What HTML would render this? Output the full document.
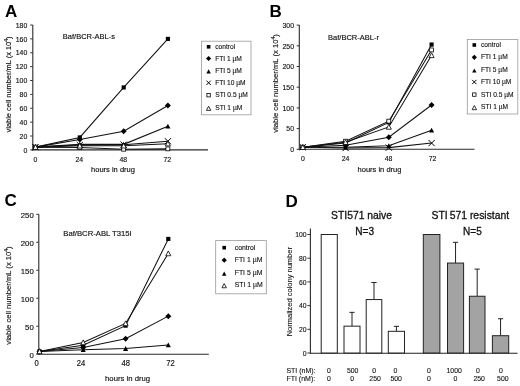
<!DOCTYPE html>
<html><head><meta charset="utf-8"><style>
html,body{margin:0;padding:0;background:#fff;width:520px;height:386px;overflow:hidden}
svg{display:block;filter:blur(0.35px)}
text{font-family:"Liberation Sans", sans-serif}
</style></head><body>
<svg width="520" height="386" viewBox="0 0 520 386">
<rect width="520" height="386" fill="#fff"/>
<line x1="32.80" y1="25.00" x2="32.80" y2="150.40" stroke="#2a2a2a" stroke-width="1.1"/>
<line x1="32.30" y1="149.90" x2="208.00" y2="149.90" stroke="#2a2a2a" stroke-width="1.1"/>
<line x1="30.20" y1="149.90" x2="32.80" y2="149.90" stroke="#333" stroke-width="1"/>
<text transform="translate(27.30 152.60) scale(0.866 1)" font-size="8.0" text-anchor="end" fill="#111" stroke="#111" stroke-width="0.15">0</text>
<line x1="30.20" y1="136.02" x2="32.80" y2="136.02" stroke="#333" stroke-width="1"/>
<text transform="translate(27.30 138.72) scale(0.866 1)" font-size="8.0" text-anchor="end" fill="#111" stroke="#111" stroke-width="0.15">20</text>
<line x1="30.20" y1="122.14" x2="32.80" y2="122.14" stroke="#333" stroke-width="1"/>
<text transform="translate(27.30 124.84) scale(0.866 1)" font-size="8.0" text-anchor="end" fill="#111" stroke="#111" stroke-width="0.15">40</text>
<line x1="30.20" y1="108.27" x2="32.80" y2="108.27" stroke="#333" stroke-width="1"/>
<text transform="translate(27.30 110.97) scale(0.866 1)" font-size="8.0" text-anchor="end" fill="#111" stroke="#111" stroke-width="0.15">60</text>
<line x1="30.20" y1="94.39" x2="32.80" y2="94.39" stroke="#333" stroke-width="1"/>
<text transform="translate(27.30 97.09) scale(0.866 1)" font-size="8.0" text-anchor="end" fill="#111" stroke="#111" stroke-width="0.15">80</text>
<line x1="30.20" y1="80.51" x2="32.80" y2="80.51" stroke="#333" stroke-width="1"/>
<text transform="translate(27.30 83.21) scale(0.866 1)" font-size="8.0" text-anchor="end" fill="#111" stroke="#111" stroke-width="0.15">100</text>
<line x1="30.20" y1="66.63" x2="32.80" y2="66.63" stroke="#333" stroke-width="1"/>
<text transform="translate(27.30 69.33) scale(0.866 1)" font-size="8.0" text-anchor="end" fill="#111" stroke="#111" stroke-width="0.15">120</text>
<line x1="30.20" y1="52.76" x2="32.80" y2="52.76" stroke="#333" stroke-width="1"/>
<text transform="translate(27.30 55.46) scale(0.866 1)" font-size="8.0" text-anchor="end" fill="#111" stroke="#111" stroke-width="0.15">140</text>
<line x1="30.20" y1="38.88" x2="32.80" y2="38.88" stroke="#333" stroke-width="1"/>
<text transform="translate(27.30 41.58) scale(0.866 1)" font-size="8.0" text-anchor="end" fill="#111" stroke="#111" stroke-width="0.15">160</text>
<line x1="30.20" y1="25.00" x2="32.80" y2="25.00" stroke="#333" stroke-width="1"/>
<text transform="translate(27.30 27.70) scale(0.866 1)" font-size="8.0" text-anchor="end" fill="#111" stroke="#111" stroke-width="0.15">180</text>
<text transform="translate(35.30 161.60) scale(0.9 1)" font-size="7.7" text-anchor="middle" fill="#111" stroke="#111" stroke-width="0.15">0</text>
<text transform="translate(79.30 161.60) scale(0.9 1)" font-size="7.7" text-anchor="middle" fill="#111" stroke="#111" stroke-width="0.15">24</text>
<text transform="translate(123.30 161.60) scale(0.9 1)" font-size="7.7" text-anchor="middle" fill="#111" stroke="#111" stroke-width="0.15">48</text>
<text transform="translate(167.30 161.60) scale(0.9 1)" font-size="7.7" text-anchor="middle" fill="#111" stroke="#111" stroke-width="0.15">72</text>
<text transform="translate(113.00 171.70)" font-size="7.5" text-anchor="middle" fill="#111" stroke="#111" stroke-width="0.15">hours in drug</text>
<text transform="translate(10.70 84.50) rotate(-90)" font-size="7.45" text-anchor="middle" fill="#111" stroke="#111" stroke-width="0.15">viable cell number/mL (x 10<tspan font-size="5" dy="-2.5">4</tspan><tspan dy="2.5">)</tspan></text>
<text transform="translate(5.00 17.00)" font-size="17" text-anchor="start" font-weight="bold" fill="#000">A</text>
<text transform="translate(62.80 38.50)" font-size="7.5" text-anchor="start" fill="#111" stroke="#111" stroke-width="0.15">Baf/BCR-ABL-s</text>
<polyline points="35.50,147.12 79.80,137.41 123.70,87.45 167.90,38.88" fill="none" stroke="#111" stroke-width="1.05"/>
<polyline points="35.50,147.12 79.80,139.49 123.70,131.17 167.90,105.49" fill="none" stroke="#111" stroke-width="1.05"/>
<polyline points="35.50,147.12 79.80,144.35 123.70,144.35 167.90,126.31" fill="none" stroke="#111" stroke-width="1.05"/>
<polyline points="35.50,147.12 79.80,145.04 123.70,144.70 167.90,141.23" fill="none" stroke="#111" stroke-width="1.05"/>
<polyline points="35.50,147.12 79.80,147.47 123.70,149.21 167.90,148.86" fill="none" stroke="#111" stroke-width="1.05"/>
<polyline points="35.50,147.12 79.80,145.74 123.70,145.74 167.90,143.66" fill="none" stroke="#111" stroke-width="1.05"/>
<rect x="33.43" y="145.05" width="4.14" height="4.14" fill="#000"/>
<rect x="77.73" y="135.34" width="4.14" height="4.14" fill="#000"/>
<rect x="121.63" y="85.38" width="4.14" height="4.14" fill="#000"/>
<rect x="165.83" y="36.81" width="4.14" height="4.14" fill="#000"/>
<path d="M35.50 144.13L38.49 147.12L35.50 150.11L32.51 147.12Z" fill="#000"/>
<path d="M79.80 136.50L82.79 139.49L79.80 142.48L76.81 139.49Z" fill="#000"/>
<path d="M123.70 128.18L126.69 131.17L123.70 134.16L120.71 131.17Z" fill="#000"/>
<path d="M167.90 102.50L170.89 105.49L167.90 108.48L164.91 105.49Z" fill="#000"/>
<path d="M35.50 144.59L38.03 149.40L32.97 149.40Z" fill="#000"/>
<path d="M79.80 141.82L82.33 146.63L77.27 146.63Z" fill="#000"/>
<path d="M123.70 141.82L126.23 146.63L121.17 146.63Z" fill="#000"/>
<path d="M167.90 123.78L170.43 128.58L165.37 128.58Z" fill="#000"/>
<path d="M32.40 144.02L38.60 150.23M38.60 144.02L32.40 150.23" stroke="#000" stroke-width="1" fill="none"/>
<path d="M76.69 141.94L82.91 148.15M82.91 141.94L76.69 148.15" stroke="#000" stroke-width="1" fill="none"/>
<path d="M120.59 141.59L126.81 147.80M126.81 141.59L120.59 147.80" stroke="#000" stroke-width="1" fill="none"/>
<path d="M164.80 138.12L171.00 144.33M171.00 138.12L164.80 144.33" stroke="#000" stroke-width="1" fill="none"/>
<rect x="33.55" y="145.17" width="3.91" height="3.91" fill="#fff" stroke="#000" stroke-width="0.8"/>
<rect x="77.84" y="145.52" width="3.91" height="3.91" fill="#fff" stroke="#000" stroke-width="0.8"/>
<rect x="121.75" y="147.25" width="3.91" height="3.91" fill="#fff" stroke="#000" stroke-width="0.8"/>
<rect x="165.94" y="146.90" width="3.91" height="3.91" fill="#fff" stroke="#000" stroke-width="0.8"/>
<path d="M35.50 144.59L38.03 149.40L32.97 149.40Z" fill="#fff" stroke="#000" stroke-width="0.8"/>
<path d="M79.80 143.21L82.33 148.01L77.27 148.01Z" fill="#fff" stroke="#000" stroke-width="0.8"/>
<path d="M123.70 143.21L126.23 148.01L121.17 148.01Z" fill="#fff" stroke="#000" stroke-width="0.8"/>
<path d="M167.90 141.12L170.43 145.93L165.37 145.93Z" fill="#fff" stroke="#000" stroke-width="0.8"/>
<rect x="201.50" y="41.20" width="49.50" height="73.60" fill="none" stroke="#999" stroke-width="0.8"/>
<rect x="206.80" y="45.00" width="3.60" height="3.60" fill="#000"/>
<text transform="translate(215.20 48.80) scale(0.95 1)" font-size="7.0" text-anchor="start" fill="#111" stroke="#111" stroke-width="0.12">control</text>
<path d="M208.60 55.90L211.20 58.50L208.60 61.10L206.00 58.50Z" fill="#000"/>
<text transform="translate(215.20 60.50) scale(0.95 1)" font-size="7.0" text-anchor="start" fill="#111" stroke="#111" stroke-width="0.12">FTI 1 µM</text>
<path d="M208.60 69.30L210.80 73.48L206.40 73.48Z" fill="#000"/>
<text transform="translate(215.20 72.70) scale(0.95 1)" font-size="7.0" text-anchor="start" fill="#111" stroke="#111" stroke-width="0.12">FTI 5 µM</text>
<path d="M206.44 80.64L210.76 84.96M210.76 80.64L206.44 84.96" stroke="#000" stroke-width="1" fill="none"/>
<text transform="translate(215.20 84.80) scale(0.95 1)" font-size="7.0" text-anchor="start" fill="#111" stroke="#111" stroke-width="0.12">FTI 10 µM</text>
<rect x="206.90" y="93.50" width="3.40" height="3.40" fill="#fff" stroke="#000" stroke-width="0.8"/>
<text transform="translate(215.20 97.20) scale(0.95 1)" font-size="7.0" text-anchor="start" fill="#111" stroke="#111" stroke-width="0.12">STI 0.5 µM</text>
<path d="M208.60 106.20L210.80 110.38L206.40 110.38Z" fill="#fff" stroke="#000" stroke-width="0.8"/>
<text transform="translate(215.20 109.60) scale(0.95 1)" font-size="7.0" text-anchor="start" fill="#111" stroke="#111" stroke-width="0.12">STI 1 µM</text>
<line x1="299.30" y1="25.10" x2="299.30" y2="149.80" stroke="#2a2a2a" stroke-width="1.1"/>
<line x1="298.80" y1="149.30" x2="474.50" y2="149.30" stroke="#2a2a2a" stroke-width="1.1"/>
<line x1="296.70" y1="149.30" x2="299.30" y2="149.30" stroke="#333" stroke-width="1"/>
<text transform="translate(294.00 152.00) scale(0.866 1)" font-size="8.0" text-anchor="end" fill="#111" stroke="#111" stroke-width="0.15">0</text>
<line x1="296.70" y1="128.60" x2="299.30" y2="128.60" stroke="#333" stroke-width="1"/>
<text transform="translate(294.00 131.30) scale(0.866 1)" font-size="8.0" text-anchor="end" fill="#111" stroke="#111" stroke-width="0.15">50</text>
<line x1="296.70" y1="107.90" x2="299.30" y2="107.90" stroke="#333" stroke-width="1"/>
<text transform="translate(294.00 110.60) scale(0.866 1)" font-size="8.0" text-anchor="end" fill="#111" stroke="#111" stroke-width="0.15">100</text>
<line x1="296.70" y1="87.20" x2="299.30" y2="87.20" stroke="#333" stroke-width="1"/>
<text transform="translate(294.00 89.90) scale(0.866 1)" font-size="8.0" text-anchor="end" fill="#111" stroke="#111" stroke-width="0.15">150</text>
<line x1="296.70" y1="66.50" x2="299.30" y2="66.50" stroke="#333" stroke-width="1"/>
<text transform="translate(294.00 69.20) scale(0.866 1)" font-size="8.0" text-anchor="end" fill="#111" stroke="#111" stroke-width="0.15">200</text>
<line x1="296.70" y1="45.80" x2="299.30" y2="45.80" stroke="#333" stroke-width="1"/>
<text transform="translate(294.00 48.50) scale(0.866 1)" font-size="8.0" text-anchor="end" fill="#111" stroke="#111" stroke-width="0.15">250</text>
<line x1="296.70" y1="25.10" x2="299.30" y2="25.10" stroke="#333" stroke-width="1"/>
<text transform="translate(294.00 27.80) scale(0.866 1)" font-size="8.0" text-anchor="end" fill="#111" stroke="#111" stroke-width="0.15">300</text>
<text transform="translate(302.80 161.30) scale(0.9 1)" font-size="7.7" text-anchor="middle" fill="#111" stroke="#111" stroke-width="0.15">0</text>
<text transform="translate(345.50 161.30) scale(0.9 1)" font-size="7.7" text-anchor="middle" fill="#111" stroke="#111" stroke-width="0.15">24</text>
<text transform="translate(388.60 161.30) scale(0.9 1)" font-size="7.7" text-anchor="middle" fill="#111" stroke="#111" stroke-width="0.15">48</text>
<text transform="translate(432.50 161.30) scale(0.9 1)" font-size="7.7" text-anchor="middle" fill="#111" stroke="#111" stroke-width="0.15">72</text>
<text transform="translate(379.50 172.00)" font-size="7.5" text-anchor="middle" fill="#111" stroke="#111" stroke-width="0.15">hours in drug</text>
<text transform="translate(277.70 83.50) rotate(-90)" font-size="7.65" text-anchor="middle" fill="#111" stroke="#111" stroke-width="0.15">viable cell number/mL (x 10<tspan font-size="5" dy="-2.5">4</tspan><tspan dy="2.5">)</tspan></text>
<text transform="translate(269.60 17.00)" font-size="17" text-anchor="start" font-weight="bold" fill="#000">B</text>
<text transform="translate(328.10 40.20)" font-size="7.5" text-anchor="start" fill="#111" stroke="#111" stroke-width="0.15">Baf/BCR-ABL-r</text>
<polyline points="302.80,147.23 345.60,143.09 388.80,122.39 431.60,44.56" fill="none" stroke="#111" stroke-width="1.05"/>
<polyline points="302.80,147.23 345.60,145.16 388.80,137.29 431.60,105.00" fill="none" stroke="#111" stroke-width="1.05"/>
<polyline points="302.80,147.23 345.60,147.23 388.80,145.78 431.60,130.26" fill="none" stroke="#111" stroke-width="1.05"/>
<polyline points="302.80,147.23 345.60,148.06 388.80,147.64 431.60,143.09" fill="none" stroke="#111" stroke-width="1.05"/>
<polyline points="302.80,147.23 345.60,141.19 388.80,121.15 431.60,49.94" fill="none" stroke="#111" stroke-width="1.05"/>
<polyline points="302.80,147.23 345.60,142.26 388.80,126.94 431.60,55.32" fill="none" stroke="#111" stroke-width="1.05"/>
<rect x="300.73" y="145.16" width="4.14" height="4.14" fill="#000"/>
<rect x="343.53" y="141.02" width="4.14" height="4.14" fill="#000"/>
<rect x="386.73" y="120.32" width="4.14" height="4.14" fill="#000"/>
<rect x="429.53" y="42.49" width="4.14" height="4.14" fill="#000"/>
<path d="M302.80 144.24L305.79 147.23L302.80 150.22L299.81 147.23Z" fill="#000"/>
<path d="M345.60 142.17L348.59 145.16L345.60 148.15L342.61 145.16Z" fill="#000"/>
<path d="M388.80 134.30L391.79 137.29L388.80 140.28L385.81 137.29Z" fill="#000"/>
<path d="M431.60 102.01L434.59 105.00L431.60 107.99L428.61 105.00Z" fill="#000"/>
<path d="M302.80 144.70L305.33 149.51L300.27 149.51Z" fill="#000"/>
<path d="M345.60 144.70L348.13 149.51L343.07 149.51Z" fill="#000"/>
<path d="M388.80 143.25L391.33 148.06L386.27 148.06Z" fill="#000"/>
<path d="M431.60 127.73L434.13 132.53L429.07 132.53Z" fill="#000"/>
<path d="M299.69 144.13L305.91 150.34M305.91 144.13L299.69 150.34" stroke="#000" stroke-width="1" fill="none"/>
<path d="M342.50 144.95L348.71 151.16M348.71 144.95L342.50 151.16" stroke="#000" stroke-width="1" fill="none"/>
<path d="M385.69 144.54L391.91 150.75M391.91 144.54L385.69 150.75" stroke="#000" stroke-width="1" fill="none"/>
<path d="M428.50 139.99L434.71 146.19M434.71 139.99L428.50 146.19" stroke="#000" stroke-width="1" fill="none"/>
<rect x="300.85" y="145.28" width="3.91" height="3.91" fill="#fff" stroke="#000" stroke-width="0.8"/>
<rect x="343.65" y="139.23" width="3.91" height="3.91" fill="#fff" stroke="#000" stroke-width="0.8"/>
<rect x="386.85" y="119.19" width="3.91" height="3.91" fill="#fff" stroke="#000" stroke-width="0.8"/>
<rect x="429.65" y="47.98" width="3.91" height="3.91" fill="#fff" stroke="#000" stroke-width="0.8"/>
<path d="M302.80 144.70L305.33 149.51L300.27 149.51Z" fill="#fff" stroke="#000" stroke-width="0.8"/>
<path d="M345.60 139.73L348.13 144.54L343.07 144.54Z" fill="#fff" stroke="#000" stroke-width="0.8"/>
<path d="M388.80 124.41L391.33 129.22L386.27 129.22Z" fill="#fff" stroke="#000" stroke-width="0.8"/>
<path d="M431.60 52.79L434.13 57.60L429.07 57.60Z" fill="#fff" stroke="#000" stroke-width="0.8"/>
<rect x="467.30" y="39.50" width="50.50" height="74.50" fill="none" stroke="#999" stroke-width="0.8"/>
<rect x="472.50" y="43.20" width="3.60" height="3.60" fill="#000"/>
<text transform="translate(481.00 47.00) scale(0.95 1)" font-size="7.0" text-anchor="start" fill="#111" stroke="#111" stroke-width="0.12">control</text>
<path d="M474.30 54.70L476.90 57.30L474.30 59.90L471.70 57.30Z" fill="#000"/>
<text transform="translate(481.00 59.30) scale(0.95 1)" font-size="7.0" text-anchor="start" fill="#111" stroke="#111" stroke-width="0.12">FTI 1 µM</text>
<path d="M474.30 68.40L476.50 72.58L472.10 72.58Z" fill="#000"/>
<text transform="translate(481.00 71.80) scale(0.95 1)" font-size="7.0" text-anchor="start" fill="#111" stroke="#111" stroke-width="0.12">FTI 5 µM</text>
<path d="M472.14 79.84L476.46 84.16M476.46 79.84L472.14 84.16" stroke="#000" stroke-width="1" fill="none"/>
<text transform="translate(481.00 84.00) scale(0.95 1)" font-size="7.0" text-anchor="start" fill="#111" stroke="#111" stroke-width="0.12">FTI 10 µM</text>
<rect x="472.60" y="92.90" width="3.40" height="3.40" fill="#fff" stroke="#000" stroke-width="0.8"/>
<text transform="translate(481.00 96.60) scale(0.95 1)" font-size="7.0" text-anchor="start" fill="#111" stroke="#111" stroke-width="0.12">STI 0.5 µM</text>
<path d="M474.30 105.50L476.50 109.68L472.10 109.68Z" fill="#fff" stroke="#000" stroke-width="0.8"/>
<text transform="translate(481.00 108.90) scale(0.95 1)" font-size="7.0" text-anchor="start" fill="#111" stroke="#111" stroke-width="0.12">STI 1 µM</text>
<line x1="38.80" y1="214.30" x2="38.80" y2="354.70" stroke="#2a2a2a" stroke-width="1.1"/>
<line x1="38.30" y1="354.20" x2="208.80" y2="354.20" stroke="#2a2a2a" stroke-width="1.1"/>
<line x1="36.20" y1="354.20" x2="38.80" y2="354.20" stroke="#333" stroke-width="1"/>
<text transform="translate(33.80 357.70)" font-size="7.8" text-anchor="end" fill="#111" stroke="#111" stroke-width="0.15">0</text>
<line x1="36.20" y1="326.22" x2="38.80" y2="326.22" stroke="#333" stroke-width="1"/>
<text transform="translate(33.80 329.72)" font-size="7.8" text-anchor="end" fill="#111" stroke="#111" stroke-width="0.15">50</text>
<line x1="36.20" y1="298.24" x2="38.80" y2="298.24" stroke="#333" stroke-width="1"/>
<text transform="translate(33.80 301.74)" font-size="7.8" text-anchor="end" fill="#111" stroke="#111" stroke-width="0.15">100</text>
<line x1="36.20" y1="270.26" x2="38.80" y2="270.26" stroke="#333" stroke-width="1"/>
<text transform="translate(33.80 273.76)" font-size="7.8" text-anchor="end" fill="#111" stroke="#111" stroke-width="0.15">150</text>
<line x1="36.20" y1="242.28" x2="38.80" y2="242.28" stroke="#333" stroke-width="1"/>
<text transform="translate(33.80 245.78)" font-size="7.8" text-anchor="end" fill="#111" stroke="#111" stroke-width="0.15">200</text>
<line x1="36.20" y1="214.30" x2="38.80" y2="214.30" stroke="#333" stroke-width="1"/>
<text transform="translate(33.80 217.80)" font-size="7.8" text-anchor="end" fill="#111" stroke="#111" stroke-width="0.15">250</text>
<text transform="translate(36.50 365.90) scale(0.92 1)" font-size="8.3" text-anchor="middle" fill="#111" stroke="#111" stroke-width="0.15">0</text>
<text transform="translate(81.00 365.90) scale(0.92 1)" font-size="8.3" text-anchor="middle" fill="#111" stroke="#111" stroke-width="0.15">24</text>
<text transform="translate(125.80 365.90) scale(0.92 1)" font-size="8.3" text-anchor="middle" fill="#111" stroke="#111" stroke-width="0.15">48</text>
<text transform="translate(170.60 365.90) scale(0.92 1)" font-size="8.3" text-anchor="middle" fill="#111" stroke="#111" stroke-width="0.15">72</text>
<text transform="translate(127.60 381.40)" font-size="7.73" text-anchor="middle" fill="#111" stroke="#111" stroke-width="0.15">hours in drug</text>
<text transform="translate(10.50 295.50) rotate(-90)" font-size="7.64" text-anchor="middle" fill="#111" stroke="#111" stroke-width="0.15">viable cell number/mL (x 10<tspan font-size="5" dy="-2.5">4</tspan><tspan dy="2.5">)</tspan></text>
<text transform="translate(4.50 206.30)" font-size="17" text-anchor="start" font-weight="bold" fill="#000">C</text>
<text transform="translate(63.30 236.20)" font-size="7.7" text-anchor="start" fill="#111" stroke="#111" stroke-width="0.15">Baf/BCR-ABL T315I</text>
<polyline points="39.50,351.40 83.20,345.25 125.60,325.66 168.30,238.92" fill="none" stroke="#111" stroke-width="1.05"/>
<polyline points="39.50,351.40 83.20,347.48 125.60,338.81 168.30,316.15" fill="none" stroke="#111" stroke-width="1.05"/>
<polyline points="39.50,351.40 83.20,349.72 125.60,348.60 168.30,345.02" fill="none" stroke="#111" stroke-width="1.05"/>
<polyline points="39.50,351.40 83.20,342.45 125.60,323.42 168.30,253.47" fill="none" stroke="#111" stroke-width="1.05"/>
<rect x="37.43" y="349.33" width="4.14" height="4.14" fill="#000"/>
<rect x="81.13" y="343.18" width="4.14" height="4.14" fill="#000"/>
<rect x="123.53" y="323.59" width="4.14" height="4.14" fill="#000"/>
<rect x="166.23" y="236.85" width="4.14" height="4.14" fill="#000"/>
<path d="M39.50 348.41L42.49 351.40L39.50 354.39L36.51 351.40Z" fill="#000"/>
<path d="M83.20 344.49L86.19 347.48L83.20 350.47L80.21 347.48Z" fill="#000"/>
<path d="M125.60 335.82L128.59 338.81L125.60 341.80L122.61 338.81Z" fill="#000"/>
<path d="M168.30 313.16L171.29 316.15L168.30 319.14L165.31 316.15Z" fill="#000"/>
<path d="M39.50 348.87L42.03 353.68L36.97 353.68Z" fill="#000"/>
<path d="M83.20 347.19L85.73 352.00L80.67 352.00Z" fill="#000"/>
<path d="M125.60 346.07L128.13 350.88L123.07 350.88Z" fill="#000"/>
<path d="M168.30 342.49L170.83 347.30L165.77 347.30Z" fill="#000"/>
<path d="M39.50 348.87L42.03 353.68L36.97 353.68Z" fill="#fff" stroke="#000" stroke-width="0.8"/>
<path d="M83.20 339.92L85.73 344.73L80.67 344.73Z" fill="#fff" stroke="#000" stroke-width="0.8"/>
<path d="M125.60 320.89L128.13 325.70L123.07 325.70Z" fill="#fff" stroke="#000" stroke-width="0.8"/>
<path d="M168.30 250.94L170.83 255.75L165.77 255.75Z" fill="#fff" stroke="#000" stroke-width="0.8"/>
<rect x="215.70" y="240.60" width="50.60" height="53.20" fill="none" stroke="#999" stroke-width="0.8"/>
<rect x="222.40" y="245.90" width="3.60" height="3.60" fill="#000"/>
<text transform="translate(234.70 249.70) scale(0.95 1)" font-size="7.25" text-anchor="start" fill="#111" stroke="#111" stroke-width="0.12">control</text>
<path d="M224.20 257.60L226.80 260.20L224.20 262.80L221.60 260.20Z" fill="#000"/>
<text transform="translate(234.70 262.20) scale(0.95 1)" font-size="7.25" text-anchor="start" fill="#111" stroke="#111" stroke-width="0.12">FTI 1 µM</text>
<path d="M224.20 271.50L226.40 275.68L222.00 275.68Z" fill="#000"/>
<text transform="translate(234.70 274.90) scale(0.95 1)" font-size="7.25" text-anchor="start" fill="#111" stroke="#111" stroke-width="0.12">FTI 5 µM</text>
<path d="M224.20 283.60L226.40 287.78L222.00 287.78Z" fill="#fff" stroke="#000" stroke-width="0.8"/>
<text transform="translate(234.70 287.00) scale(0.95 1)" font-size="7.25" text-anchor="start" fill="#111" stroke="#111" stroke-width="0.12">STI 1 µM</text>
<line x1="310.40" y1="228.40" x2="310.40" y2="353.50" stroke="#2a2a2a" stroke-width="1.1"/>
<line x1="309.90" y1="353.30" x2="517.50" y2="353.30" stroke="#222" stroke-width="1.1"/>
<line x1="307.40" y1="353.00" x2="310.40" y2="353.00" stroke="#333" stroke-width="1"/>
<text transform="translate(306.60 355.80)" font-size="6.8" text-anchor="end" fill="#111" stroke="#111" stroke-width="0.12">0</text>
<line x1="307.40" y1="329.30" x2="310.40" y2="329.30" stroke="#333" stroke-width="1"/>
<text transform="translate(306.60 332.10)" font-size="6.8" text-anchor="end" fill="#111" stroke="#111" stroke-width="0.12">20</text>
<line x1="307.40" y1="305.60" x2="310.40" y2="305.60" stroke="#333" stroke-width="1"/>
<text transform="translate(306.60 308.40)" font-size="6.8" text-anchor="end" fill="#111" stroke="#111" stroke-width="0.12">40</text>
<line x1="307.40" y1="281.90" x2="310.40" y2="281.90" stroke="#333" stroke-width="1"/>
<text transform="translate(306.60 284.70)" font-size="6.8" text-anchor="end" fill="#111" stroke="#111" stroke-width="0.12">60</text>
<line x1="307.40" y1="258.20" x2="310.40" y2="258.20" stroke="#333" stroke-width="1"/>
<text transform="translate(306.60 261.00)" font-size="6.8" text-anchor="end" fill="#111" stroke="#111" stroke-width="0.12">80</text>
<line x1="307.40" y1="234.50" x2="310.40" y2="234.50" stroke="#333" stroke-width="1"/>
<text transform="translate(306.60 237.30)" font-size="6.8" text-anchor="end" fill="#111" stroke="#111" stroke-width="0.12">100</text>
<text transform="translate(291.60 291.70) rotate(-90)" font-size="7.5" text-anchor="middle" fill="#111" stroke="#111" stroke-width="0.1">Normalized colony number</text>
<text transform="translate(285.50 206.50)" font-size="17" text-anchor="start" font-weight="bold" fill="#000">D</text>
<text transform="translate(361.50 218.80) scale(0.985 1)" font-size="10.5" text-anchor="middle" fill="#111" stroke="#111" stroke-width="0.3">STI571 naive</text>
<text transform="translate(470.30 218.90) scale(0.99 1)" font-size="10.5" text-anchor="middle" fill="#111" stroke="#111" stroke-width="0.3">STI&#8201;571 resistant</text>
<text transform="translate(364.60 235.00) scale(0.97 1)" font-size="10.4" text-anchor="middle" fill="#111" stroke="#111" stroke-width="0.3">N=3</text>
<text transform="translate(472.40 235.00) scale(0.97 1)" font-size="10.4" text-anchor="middle" fill="#111" stroke="#111" stroke-width="0.3">N=5</text>
<rect x="321.20" y="234.50" width="16.10" height="118.50" fill="#fff" stroke="#222" stroke-width="1"/>
<line x1="352.00" y1="312.35" x2="352.00" y2="326.16" stroke="#222" stroke-width="1"/>
<line x1="349.40" y1="312.35" x2="354.60" y2="312.35" stroke="#222" stroke-width="1"/>
<rect x="344.00" y="326.16" width="16.00" height="26.84" fill="#fff" stroke="#222" stroke-width="1"/>
<line x1="374.00" y1="282.49" x2="374.00" y2="299.56" stroke="#222" stroke-width="1"/>
<line x1="371.40" y1="282.49" x2="376.60" y2="282.49" stroke="#222" stroke-width="1"/>
<rect x="366.20" y="299.56" width="15.60" height="53.44" fill="#fff" stroke="#222" stroke-width="1"/>
<line x1="396.40" y1="326.34" x2="396.40" y2="331.31" stroke="#222" stroke-width="1"/>
<line x1="393.80" y1="326.34" x2="399.00" y2="326.34" stroke="#222" stroke-width="1"/>
<rect x="388.30" y="331.31" width="16.20" height="21.69" fill="#fff" stroke="#222" stroke-width="1"/>
<rect x="423.30" y="234.50" width="16.60" height="118.50" fill="#a3a3a3" stroke="#222" stroke-width="1"/>
<line x1="455.55" y1="242.32" x2="455.55" y2="263.06" stroke="#222" stroke-width="1"/>
<line x1="452.95" y1="242.32" x2="458.15" y2="242.32" stroke="#222" stroke-width="1"/>
<rect x="447.50" y="263.06" width="16.10" height="89.94" fill="#a3a3a3" stroke="#222" stroke-width="1"/>
<line x1="477.20" y1="269.10" x2="477.20" y2="296.24" stroke="#222" stroke-width="1"/>
<line x1="474.60" y1="269.10" x2="479.80" y2="269.10" stroke="#222" stroke-width="1"/>
<rect x="469.40" y="296.24" width="15.60" height="56.76" fill="#a3a3a3" stroke="#222" stroke-width="1"/>
<line x1="500.55" y1="318.75" x2="500.55" y2="335.70" stroke="#222" stroke-width="1"/>
<line x1="497.95" y1="318.75" x2="503.15" y2="318.75" stroke="#222" stroke-width="1"/>
<rect x="492.40" y="335.70" width="16.30" height="17.30" fill="#a3a3a3" stroke="#222" stroke-width="1"/>
<text transform="translate(286.40 372.80)" font-size="7.0" text-anchor="start" fill="#111" stroke="#111" stroke-width="0.1">STI (nM):</text>
<text transform="translate(286.40 380.50)" font-size="7.0" text-anchor="start" fill="#111" stroke="#111" stroke-width="0.1">FTI (nM):</text>
<text transform="translate(328.90 372.90)" font-size="6.9" text-anchor="middle" fill="#111" stroke="#111" stroke-width="0.1">0</text>
<text transform="translate(352.70 372.90)" font-size="6.9" text-anchor="middle" fill="#111" stroke="#111" stroke-width="0.1">500</text>
<text transform="translate(374.20 372.90)" font-size="6.9" text-anchor="middle" fill="#111" stroke="#111" stroke-width="0.1">0</text>
<text transform="translate(395.40 372.90)" font-size="6.9" text-anchor="middle" fill="#111" stroke="#111" stroke-width="0.1">0</text>
<text transform="translate(428.80 372.90)" font-size="6.9" text-anchor="middle" fill="#111" stroke="#111" stroke-width="0.1">0</text>
<text transform="translate(454.20 372.90)" font-size="6.9" text-anchor="middle" fill="#111" stroke="#111" stroke-width="0.1">1000</text>
<text transform="translate(478.00 372.90)" font-size="6.9" text-anchor="middle" fill="#111" stroke="#111" stroke-width="0.1">0</text>
<text transform="translate(501.00 372.90)" font-size="6.9" text-anchor="middle" fill="#111" stroke="#111" stroke-width="0.1">0</text>
<text transform="translate(328.90 380.60)" font-size="6.9" text-anchor="middle" fill="#111" stroke="#111" stroke-width="0.1">0</text>
<text transform="translate(352.20 380.60)" font-size="6.9" text-anchor="middle" fill="#111" stroke="#111" stroke-width="0.1">0</text>
<text transform="translate(375.10 380.60)" font-size="6.9" text-anchor="middle" fill="#111" stroke="#111" stroke-width="0.1">250</text>
<text transform="translate(396.20 380.60)" font-size="6.9" text-anchor="middle" fill="#111" stroke="#111" stroke-width="0.1">500</text>
<text transform="translate(428.80 380.60)" font-size="6.9" text-anchor="middle" fill="#111" stroke="#111" stroke-width="0.1">0</text>
<text transform="translate(455.40 380.60)" font-size="6.9" text-anchor="middle" fill="#111" stroke="#111" stroke-width="0.1">0</text>
<text transform="translate(479.20 380.60)" font-size="6.9" text-anchor="middle" fill="#111" stroke="#111" stroke-width="0.1">250</text>
<text transform="translate(502.80 380.60)" font-size="6.9" text-anchor="middle" fill="#111" stroke="#111" stroke-width="0.1">500</text>
</svg>
</body></html>
